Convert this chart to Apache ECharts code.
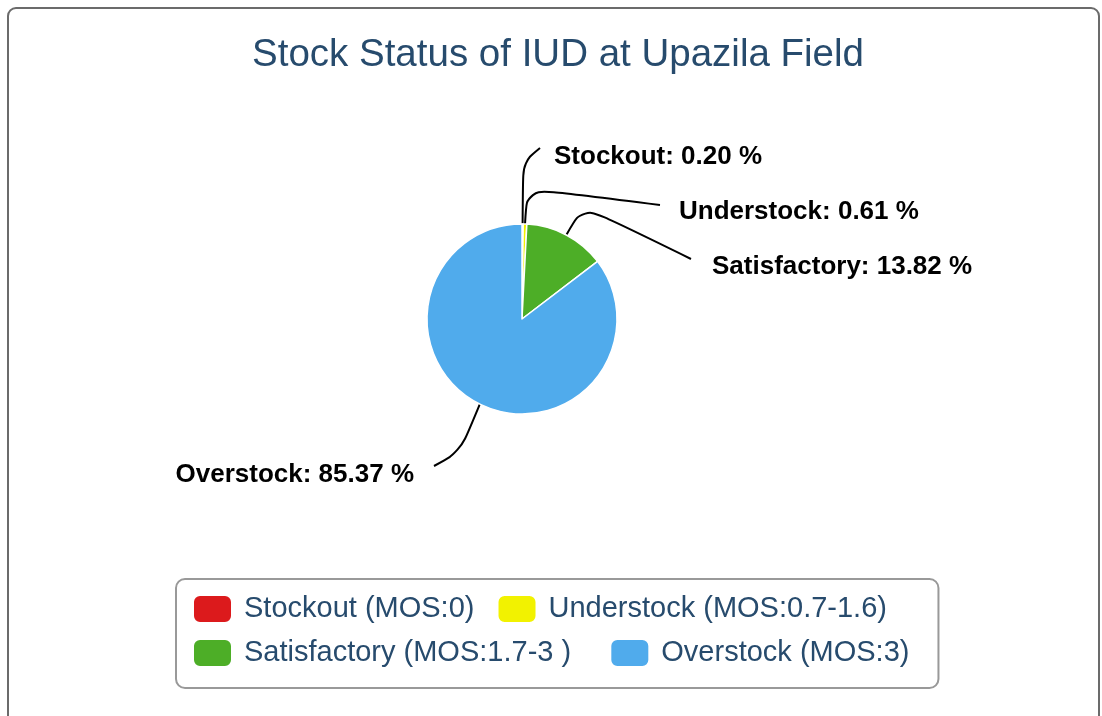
<!DOCTYPE html>
<html>
<head>
<meta charset="utf-8">
<script src="https://cdn.jsdelivr.net/npm/echarts@6/dist/echarts.min.js"></script>
<style>
html,body{margin:0;padding:0;background:#fff;}
#frame{position:absolute;left:7px;top:7px;width:1093px;height:730px;border:2px solid #6b6b6b;border-radius:9px;box-sizing:border-box;}
#chart{position:absolute;left:0;top:0;width:1102px;height:716px;}
</style>
</head>
<body>
<div id="frame"></div>
<div id="chart"></div>
<script>
const categories = ['Stockout', 'Understock', 'Satisfactory', 'Overstock'];
const legendNames = ['Stockout (MOS:0)', 'Understock (MOS:0.7-1.6)', 'Satisfactory (MOS:1.7-3 )', 'Overstock (MOS:3)'];
const values = [1, 3, 68, 420];
const colors = ['#dc1a1c', '#f2f200', '#4dae27', '#50abec'];

const FONT = '"Liberation Sans", Arial, sans-serif';
// label placement (text anchor and connector elbow / end), per slice
const labelPlace = [
  {x: 554, y: 157, align: 'left',  elbow: [523, 162], end: [540, 148]},
  {x: 679, y: 212, align: 'left',  elbow: [527, 188], end: [660, 205]},
  {x: 712, y: 267, align: 'left',  elbow: [583, 206], end: [691, 259]},
  {x: 414, y: 475, align: 'right', elbow: [460, 452], end: [434, 466]}
];
// extra trailing room after legend texts (non-breaking spaces)
const legendTrail = [1, 0, 3, 0];

const chart = echarts.init(document.getElementById('chart'), null, {renderer: 'canvas'});
const data = categories.map((c, i) => ({name: legendNames[i], value: values[i], itemStyle: {color: colors[i]}}));

chart.setOption({
  animation: false,
  title: {
    text: 'Stock Status of IUD at Upazila Field',
    left: 553, top: 31, textAlign: 'center',
    textStyle: {fontFamily: FONT, fontSize: 38.5, fontWeight: 'normal', color: '#274b6d'}
  },
  legend: {
    left: 176, top: 579, width: 740,
    orient: 'horizontal',
    padding: [15, 29, 20, 16],
    itemGap: 14,
    itemWidth: 39, itemHeight: 28,
    icon: 'roundRect',
    borderColor: '#999', borderWidth: 2, borderRadius: 9,
    textStyle: {fontFamily: FONT, fontSize: 29, color: '#274b6d', padding: [0, 0, 0, 7]},
    formatter: function (name) {
      const i = legendNames.indexOf(name);
      return name + '\u00a0'.repeat(legendTrail[i] || 0);
    },
    data: legendNames
  },
  series: [{
    type: 'pie',
    center: [522, 319],
    radius: 95,
    startAngle: 90,
    clockwise: true,
    avoidLabelOverlap: false,
    minShowLabelAngle: 0,
    itemStyle: {borderColor: '#fff', borderWidth: 1.5},
    label: {
      show: true,
      formatter: function (p) { return categories[p.dataIndex] + ': ' + p.percent.toFixed(2) + ' %'; },
      fontFamily: FONT, fontSize: 26, fontWeight: 'bold', color: '#000'
    },
    labelLine: {show: true, length: 20, length2: 20, smooth: 0.35, lineStyle: {color: '#000', width: 2}},
    labelLayout: function (params) {
      const lp = labelPlace[params.dataIndex];
      const pts = params.labelLinePoints;
      const start = pts ? pts[0] : lp.elbow;
      return {
        x: lp.x, y: lp.y, align: lp.align, verticalAlign: 'middle',
        labelLinePoints: [start, lp.elbow, lp.end]
      };
    },
    data: data
  }]
});
</script>
</body>
</html>
